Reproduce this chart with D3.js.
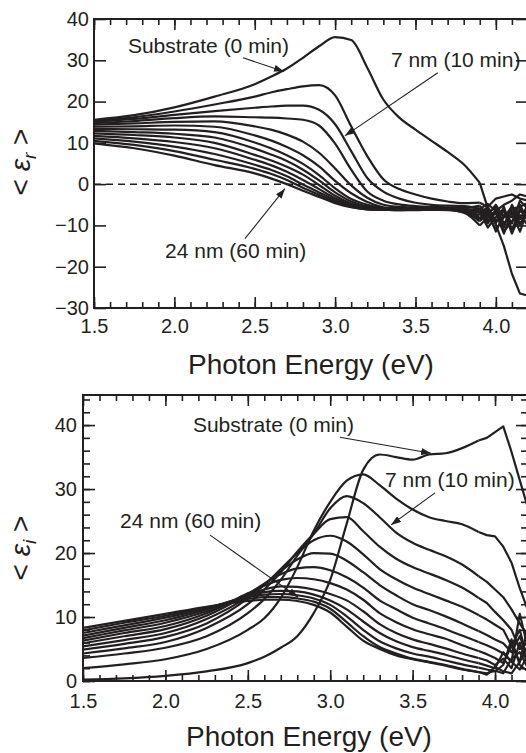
<!DOCTYPE html>
<meta charset="utf-8">
<style>
  body { margin: 0; background: #fff; }
  svg { display: block; font-family: "Liberation Sans", Arial, Helvetica, sans-serif; }
  .curve { fill: none; stroke: #231f20; stroke-width: 2.2; stroke-linejoin: round; }
  .frame { fill: none; stroke: #231f20; stroke-width: 2; }
  .zero { stroke: #231f20; stroke-width: 1.5; stroke-dasharray: 7,5; }
  .tick line { stroke: #231f20; stroke-width: 1.6; }
  .tick text { font-family: "Liberation Sans", Arial, sans-serif; font-size: 20px; fill: #231f20; }
  .note { font-size: 21px; fill: #231f20; }
  .pointer { stroke: #231f20; stroke-width: 1.1; }
  .title { font-size: 28px; fill: #231f20; }
</style>
<body>
<svg width="526" height="753"></svg>
<script src="https://d3js.org/d3.v7.min.js"></script>
<script>
// photon energy grid (eV), shared by every spectrum
var energy = [1.5, 1.75, 2.0, 2.25, 2.5, 2.6, 2.7, 2.8, 2.9, 3.0, 3.1, 3.2, 3.3, 3.4, 3.5, 3.6, 3.7, 3.8, 3.9, 3.95, 4.0, 4.05, 4.1, 4.15, 4.2];

// <e_r> : substrate (0 min) and films after 5 ... 60 min
var er00 = [15.6, 16.7, 18.6, 21.2, 24.2, 26.0, 28.0, 30.6, 33.4, 35.6, 34.9, 28.2, 20.5, 16.1, 13.2, 10.5, 7.8, 4.8, 0.3, -5.8, -9.8, -15.0, -21.7, -26.5, -27.0];
var er05 = [15.4, 16.2, 17.6, 19.3, 21.2, 22.2, 23.0, 23.7, 24.0, 21.5, 14.0, 6.8, 1.2, -1.2, -2.5, -3.5, -4.2, -4.6, -4.5, -5.5, -3.5, -3.0, -2.5, -3.5, -4.0];
var er10 = [15.1, 15.8, 16.8, 17.7, 18.5, 18.8, 19.0, 19.0, 18.0, 14.5, 8.0, 1.5, -1.8, -3.5, -4.5, -5.0, -5.2, -5.3, -6.0, -4.8, -6.5, -5.0, -4.0, -2.5, -3.0];
var er15 = [14.8, 15.3, 16.0, 16.4, 16.2, 16.1, 15.9, 15.6, 14.2, 9.8, 3.5, -1.8, -4.0, -4.9, -5.3, -5.5, -5.6, -5.8, -5.2, -7.5, -5.0, -8.0, -6.0, -5.5, -4.5];
var er20 = [14.4, 14.7, 15.1, 15.2, 14.0, 13.2, 12.0, 10.3, 7.6, 3.8, -0.3, -3.3, -5.0, -5.5, -5.7, -5.7, -5.8, -6.0, -7.0, -5.5, -9.0, -6.5, -9.5, -4.0, -6.0];
var er25 = [13.9, 14.0, 14.2, 13.9, 11.8, 10.6, 9.0, 7.0, 4.3, 0.8, -2.2, -4.3, -5.6, -5.8, -5.9, -5.9, -5.9, -6.1, -6.3, -9.5, -6.0, -10.5, -5.0, -8.5, -5.0];
var er30 = [13.4, 13.3, 13.2, 12.6, 10.1, 8.7, 7.0, 4.9, 2.2, -1.0, -3.6, -5.0, -5.8, -6.0, -6.0, -5.9, -6.0, -6.3, -8.2, -6.5, -11.5, -7.5, -8.0, -5.0, -9.0];
var er35 = [12.9, 12.6, 12.2, 11.3, 8.6, 7.2, 5.6, 3.5, 0.9, -2.0, -4.2, -5.4, -6.0, -6.1, -6.0, -6.0, -6.0, -6.4, -5.8, -8.8, -7.0, -12.0, -6.5, -10.0, -5.5];
var er40 = [12.3, 11.9, 11.3, 10.0, 7.1, 5.8, 4.2, 2.3, -0.2, -2.8, -4.7, -5.7, -6.1, -6.1, -6.1, -6.0, -6.1, -6.5, -7.5, -6.0, -9.5, -5.5, -11.0, -6.5, -8.0];
var er45 = [11.7, 11.1, 10.2, 8.7, 5.9, 4.6, 3.0, 1.0, -1.2, -3.4, -5.0, -5.9, -6.2, -6.2, -6.1, -6.1, -6.1, -6.6, -9.0, -7.0, -5.5, -9.5, -7.0, -11.5, -6.0];
var er50 = [11.1, 10.3, 9.1, 7.3, 4.7, 3.5, 1.9, -0.1, -2.0, -3.9, -5.3, -6.0, -6.2, -6.2, -6.2, -6.1, -6.2, -6.7, -6.8, -10.5, -8.0, -6.5, -12.0, -7.5, -10.0];
var er55 = [10.5, 9.5, 8.0, 5.9, 3.7, 2.5, 1.0, -0.9, -2.6, -4.3, -5.5, -6.1, -6.2, -6.3, -6.2, -6.2, -6.2, -6.8, -8.5, -7.5, -11.0, -8.0, -5.5, -9.5, -7.0];
var er60 = [9.9, 8.7, 6.9, 4.6, 2.6, 1.4, 0.0, -1.6, -3.1, -4.6, -5.6, -6.1, -6.2, -6.3, -6.3, -6.2, -6.3, -6.9, -10.0, -8.0, -6.5, -11.5, -9.0, -6.0, -8.5];

// <e_i>
var ei00 = [0.2, 0.4, 0.8, 1.5, 2.8, 3.8, 5.2, 7.0, 10.6, 15.8, 24.6, 33.0, 35.4, 35.0, 34.6, 35.4, 35.6, 36.4, 37.6, 38.0, 38.9, 39.8, 35.8, 31.4, 27.0];
var ei05 = [2.0, 2.6, 3.4, 5.0, 8.0, 9.8, 13.0, 17.8, 23.5, 28.0, 31.3, 32.3, 30.6, 28.5, 26.8, 25.6, 25.0, 24.5, 23.3, 22.8, 22.6, 21.0, 18.5, 14.5, 11.0];
var ei10 = [3.6, 4.3, 5.2, 7.0, 10.6, 12.8, 15.8, 19.6, 23.0, 27.0, 28.9, 27.8, 25.6, 23.2, 21.6, 20.5, 19.5, 18.2, 16.4, 15.5, 14.3, 13.1, 11.2, 9.0, 7.0];
var ei15 = [4.3, 5.1, 6.1, 8.3, 12.0, 14.3, 17.0, 20.2, 23.0, 25.3, 25.6, 23.4, 21.0, 19.1, 17.8, 16.8, 15.8, 14.6, 13.0, 12.2, 10.8, 9.5, 8.0, 5.0, 6.0];
var ei20 = [4.9, 5.8, 6.9, 9.0, 12.9, 15.0, 17.5, 20.0, 22.0, 22.7, 21.8, 19.8, 17.5, 15.9, 14.6, 13.6, 12.6, 11.6, 10.3, 9.6, 8.8, 8.0, 5.5, 8.0, 3.0];
var ei25 = [5.4, 6.4, 7.5, 9.7, 13.2, 15.1, 17.2, 19.0, 20.0, 19.9, 18.8, 17.0, 15.0, 13.4, 12.0, 11.1, 10.1, 9.0, 7.8, 7.2, 6.5, 5.9, 4.5, 7.0, 3.5];
var ei30 = [5.9, 7.0, 8.1, 10.2, 13.6, 15.2, 16.7, 17.6, 17.8, 17.3, 16.2, 14.6, 12.6, 11.2, 9.9, 9.0, 8.1, 7.1, 6.1, 5.6, 5.0, 4.3, 3.0, 10.5, 5.0];
var ei35 = [6.3, 7.5, 8.6, 10.6, 13.7, 14.9, 15.8, 16.1, 15.9, 15.3, 14.3, 12.7, 10.6, 9.2, 8.1, 7.3, 6.6, 5.6, 4.7, 4.2, 3.6, 2.8, 5.5, 3.0, 8.5];
var ei40 = [6.7, 7.9, 9.1, 10.9, 13.4, 14.3, 14.8, 14.7, 14.3, 13.6, 12.6, 10.9, 8.9, 7.5, 6.5, 5.8, 5.1, 4.3, 3.6, 3.2, 2.5, 3.5, 2.0, 6.0, 2.5];
var ei45 = [7.1, 8.3, 9.5, 11.2, 13.3, 13.9, 14.1, 14.0, 13.5, 12.6, 11.2, 9.3, 7.5, 6.2, 5.3, 4.7, 4.1, 3.4, 2.8, 2.4, 2.0, 4.5, 3.0, 1.8, 4.0];
var ei50 = [7.5, 8.7, 9.9, 11.4, 13.1, 13.5, 13.6, 13.4, 12.9, 11.9, 10.1, 8.0, 6.2, 5.1, 4.3, 3.8, 3.2, 2.6, 2.1, 1.8, 1.5, 2.5, 6.5, 2.5, 1.5];
var ei55 = [7.9, 9.1, 10.2, 11.5, 12.8, 13.1, 13.1, 12.9, 12.4, 11.3, 9.2, 7.0, 5.3, 4.3, 3.5, 3.0, 2.5, 1.9, 1.4, 1.2, 1.6, 1.2, 3.5, 4.5, 2.0];
var ei60 = [8.3, 9.4, 10.5, 11.6, 12.5, 12.7, 12.7, 12.5, 11.9, 10.7, 8.5, 6.3, 5.0, 4.0, 3.4, 2.9, 2.4, 1.8, 1.4, 1.0, 2.2, 1.5, 1.2, 3.0, 5.5];

var xMajorTicks = [1.5, 2.0, 2.5, 3.0, 3.5, 4.0];
var erMajorTicks = [-30, -20, -10, 0, 10, 20, 30, 40];
var eiMajorTicks = [0, 10, 20, 30, 40];

// above this energy the measured spectra are noisy: joined point to point
var noisyFrom = 3.9;

var svg = d3.select("svg");
var defs = svg.append("defs");

defs.append("marker")
  .attr("id", "head")
  .attr("markerUnits", "userSpaceOnUse")
  .attr("markerWidth", 10).attr("markerHeight", 7)
  .attr("refX", 10).attr("refY", 3.5)
  .attr("orient", "auto")
  .append("path")
  .attr("d", "M0,0L10,3.5L0,7Z")
  .attr("fill", "#231f20");

function clean(g) {
  g.select(".domain").remove();
  g.attr("font-family", null).attr("font-size", null);
}

function drawPanel(p) {
  var x = d3.scaleLinear().domain([1.5, 4.2]).range([p.left, p.right]);
  var y = d3.scaleLinear().domain(p.yDomain).range([p.bottom, p.top]);
  var g = svg.append("g");

  defs.append("clipPath").attr("id", "clip" + p.id)
    .append("rect")
    .attr("x", p.left).attr("y", p.top)
    .attr("width", p.right - p.left).attr("height", p.bottom - p.top);

  if (p.zeroLine) {
    g.append("line").attr("class", "zero")
      .attr("x1", x(1.5)).attr("x2", x(4.2))
      .attr("y1", y(0)).attr("y2", y(0));
  }

  var k = energy.indexOf(noisyFrom);
  var smooth = d3.line()
    .x(function(d) { return x(d[0]); })
    .y(function(d) { return y(d[1]); })
    .curve(d3.curveMonotoneX);
  var jagged = d3.line()
    .x(function(d) { return x(d[0]); })
    .y(function(d) { return y(d[1]); });

  var lines = g.append("g").attr("clip-path", "url(#clip" + p.id + ")");
  p.series.forEach(function(s) {
    var pts = s.map(function(v, i) { return [energy[i], v]; });
    lines.append("path").attr("class", "curve").attr("d", smooth(pts.slice(0, k + 1)));
    lines.append("path").attr("class", "curve").attr("d", jagged(pts.slice(k)));
  });

  var xMinor = d3.range(15, 43).map(function(d) { return d / 10; });

  g.append("g").attr("transform", "translate(0," + p.bottom + ")")
    .call(d3.axisBottom(x).tickValues(xMinor).tickSize(-6).tickFormat(""))
    .call(clean);
  g.append("g").attr("transform", "translate(0," + p.bottom + ")")
    .call(d3.axisBottom(x).tickValues(xMajorTicks).tickSize(-11).tickPadding(p.xPad).tickFormat(d3.format(".1f")))
    .call(clean);
  g.append("g").attr("transform", "translate(0," + p.top + ")")
    .call(d3.axisTop(x).tickValues(xMinor).tickSize(-6).tickFormat(""))
    .call(clean);
  g.append("g").attr("transform", "translate(0," + p.top + ")")
    .call(d3.axisTop(x).tickValues(xMajorTicks).tickSize(-11).tickFormat(""))
    .call(clean);

  if (p.yMinor) {
    g.append("g").attr("transform", "translate(" + p.left + ",0)")
      .call(d3.axisLeft(y).tickValues(p.yMinor).tickSize(-7).tickFormat(""))
      .call(clean);
    g.append("g").attr("transform", "translate(" + p.right + ",0)")
      .call(d3.axisRight(y).tickValues(p.yMinor).tickSize(-7).tickFormat(""))
      .call(clean);
  }
  g.append("g").attr("transform", "translate(" + p.left + ",0)")
    .call(d3.axisLeft(y).tickValues(p.yTicks).tickSize(-12).tickPadding(p.yPad))
    .call(clean);
  g.append("g").attr("transform", "translate(" + p.right + ",0)")
    .call(d3.axisRight(y).tickValues(p.yTicks).tickSize(-12).tickFormat(""))
    .call(clean);

  g.append("rect").attr("class", "frame")
    .attr("x", p.left).attr("y", p.top)
    .attr("width", p.right - p.left).attr("height", p.bottom - p.top);

  // axis titles
  g.append("text").attr("class", "title")
    .attr("x", p.titleX).attr("y", p.titleY)
    .attr("text-anchor", "middle")
    .text("Photon Energy (eV)");

  var yl = g.append("text").attr("class", "title")
    .attr("text-anchor", "middle")
    .attr("transform", "translate(30," + p.labelY + ") rotate(-90)");
  yl.append("tspan").text("< ");
  yl.append("tspan").attr("font-style", "italic").text("\u03b5");
  yl.append("tspan").attr("font-style", "italic").attr("font-size", "19px").attr("dy", 6).text(p.sub);
  yl.append("tspan").attr("dy", -6).text(" >");

  // annotations
  p.notes.forEach(function(n) {
    g.append("text").attr("class", "note")
      .attr("x", x(n.at[0])).attr("y", y(n.at[1]))
      .text(n.text);
    g.append("line").attr("class", "pointer")
      .attr("x1", x(n.from[0])).attr("y1", y(n.from[1]))
      .attr("x2", x(n.to[0])).attr("y2", y(n.to[1]))
      .attr("marker-end", "url(#head)");
  });
}

drawPanel({
  id: "r",
  left: 94, right: 528, top: 19, bottom: 308,
  yDomain: [-30, 40],
  yTicks: erMajorTicks,
  yPad: 5, xPad: 11,
  zeroLine: true,
  series: [er05, er10, er15, er20, er25, er30, er35, er40, er45, er50, er55, er60, er00],
  titleX: 311, titleY: 374,
  labelY: 162, sub: "r",
  notes: [
    { text: "Substrate (0 min)", at: [1.711, 31.8], from: [2.427, 30.6], to: [2.682, 27.3] },
    { text: "7 nm (10 min)", at: [3.347, 28.45], from: [3.639, 27.0], to: [3.061, 11.7] },
    { text: "24 nm (60 min)", at: [1.942, -18.0], from: [2.439, -13.2], to: [2.688, -1.1] }
  ]
});

drawPanel({
  id: "i",
  left: 83, right: 528, top: 395, bottom: 681,
  yDomain: [0, 44.7],
  yTicks: eiMajorTicks,
  yMinor: d3.range(0, 45, 2),
  yPad: 6, xPad: 13,
  zeroLine: false,
  series: [ei05, ei10, ei15, ei20, ei25, ei30, ei35, ei40, ei45, ei50, ei55, ei60, ei00],
  titleX: 309, titleY: 746,
  labelY: 548, sub: "i",
  notes: [
    { text: "Substrate (0 min)", at: [2.167, 38.9], from: [3.059, 38.1], to: [3.612, 35.6] },
    { text: "7 nm (10 min)", at: [3.333, 30.3], from: [3.636, 29.4], to: [3.369, 24.4] },
    { text: "24 nm (60 min)", at: [1.725, 23.9], from: [2.271, 22.8], to: [2.805, 13.1] }
  ]
});
</script>
</body>
